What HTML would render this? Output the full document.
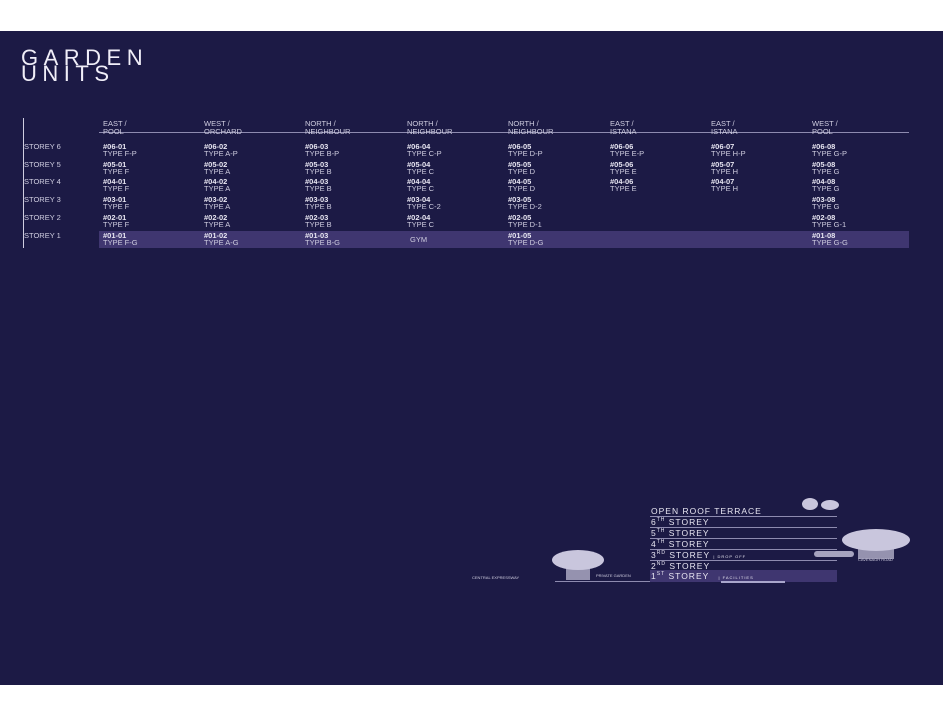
<!DOCTYPE html><html><head><style>
body{margin:0;width:943px;height:717px;background:#fff;position:relative;overflow:hidden;font-family:"Liberation Sans",sans-serif;color:#e8e6f2}
#bg{position:absolute;left:0;top:31px;width:943px;height:654px;background:#1c1a45}
.a{position:absolute;white-space:nowrap}
.h{font-size:7.5px;line-height:8px;color:#cfcde0}
.u{font-size:7.5px;font-weight:bold;line-height:8px}
.y{font-size:7.5px;line-height:8px;color:#cfcde0}
.s{font-size:7.5px;color:#cfcde0}
.fl{font-size:8.5px;letter-spacing:1px;color:#e8e6f2}
.ln{position:absolute;height:1px;background:#8e8bb0}
</style></head><body><div id="bg"></div>
<div class="a" style="left:21px;top:50px;font-size:22px;line-height:16px;letter-spacing:5.5px;color:#f0eef8">GARDEN<br>UNITS</div>
<div style="position:absolute;left:23px;top:118px;width:1px;height:130px;background:#cfcde0"></div>
<div class="ln" style="left:99px;top:132px;width:810px"></div>
<div style="position:absolute;left:99px;top:231px;width:810px;height:17px;background:#3f3670"></div>
<div id="g"></div>
<div class="a" style="left:410px;top:235px;font-size:7.5px;color:#cfcde0">GYM</div>
<div style="position:absolute;left:650px;top:570px;width:187px;height:12px;background:#3f3670"></div>
<div style="position:absolute;left:721px;top:581px;width:64px;height:2px;background:#a9a6cc"></div>
<div class="ln" style="left:650px;top:516px;width:187px"></div>
<div class="ln" style="left:650px;top:527px;width:187px"></div>
<div class="ln" style="left:650px;top:538px;width:187px"></div>
<div class="ln" style="left:650px;top:549px;width:187px"></div>
<div class="ln" style="left:650px;top:560px;width:187px"></div>
<div class="ln" style="left:555px;top:581px;width:95px"></div>
<div class="a fl" style="left:651px;top:506px">OPEN ROOF TERRACE</div>
<div class="a fl" style="left:651px;top:517px">6<sup style="font-size:5px">TH</sup> STOREY</div>
<div class="a fl" style="left:651px;top:528px">5<sup style="font-size:5px">TH</sup> STOREY</div>
<div class="a fl" style="left:651px;top:539px">4<sup style="font-size:5px">TH</sup> STOREY</div>
<div class="a fl" style="left:651px;top:550px">3<sup style="font-size:5px">RD</sup> STOREY <span style="font-size:4px">| DROP OFF</span></div>
<div class="a fl" style="left:651px;top:561px">2<sup style="font-size:5px">ND</sup> STOREY</div>
<div class="a fl" style="left:651px;top:571px">1<sup style="font-size:5px">ST</sup> STOREY <span style="font-size:4px;margin-left:6px">| FACILITIES</span></div>
<div class="a" style="left:472px;top:575px;font-size:4px;color:#cfcde0">CENTRAL EXPRESSWAY</div>
<div class="a" style="left:596px;top:573px;font-size:4px;color:#cfcde0">PRIVATE GARDEN</div>
<div class="a" style="left:858px;top:557px;font-size:4px;color:#cfcde0">CAVENAGH ROAD</div>
<svg class="a" style="left:548px;top:548px" width="60" height="34"><ellipse cx="30" cy="12" rx="26" ry="10" fill="#c9c6dd"/><rect x="18" y="16" width="24" height="16" fill="#c9c6dd" opacity=".7"/></svg>
<svg class="a" style="left:838px;top:528px" width="75" height="32"><ellipse cx="38" cy="12" rx="34" ry="11" fill="#c9c6dd"/><rect x="20" y="16" width="36" height="15" fill="#c9c6dd" opacity=".7"/></svg>
<svg class="a" style="left:800px;top:498px" width="42" height="16"><ellipse cx="10" cy="6" rx="8" ry="6" fill="#c9c6dd"/><ellipse cx="30" cy="7" rx="9" ry="5" fill="#c9c6dd"/></svg>
<svg class="a" style="left:812px;top:547px" width="45" height="12"><rect x="2" y="4" width="40" height="6" rx="3" fill="#c9c6dd" opacity=".8"/></svg>
<script>
var X=[103,204,305,407,508,610,711,812];
var H=[["EAST /","POOL"],["WEST /","ORCHARD"],["NORTH /","NEIGHBOUR"],["NORTH /","NEIGHBOUR"],["NORTH /","NEIGHBOUR"],["EAST /","ISTANA"],["EAST /","ISTANA"],["WEST /","POOL"]];
var R=[[6,["F-P","A-P","B-P","C-P","D-P","E-P","H-P","G-P"]],[5,["F","A","B","C","D","E","H","G"]],[4,["F","A","B","C","D","E","H","G"]],[3,["F","A","B","C-2","D-2",null,null,"G"]],[2,["F","A","B","C","D-1",null,null,"G-1"]],[1,["F-G","A-G","B-G",null,"D-G",null,null,"G-G"]]];
var h="";
X.forEach(function(x,i){h+='<div class="a h" style="left:'+x+'px;top:120px">'+H[i][0]+'<br>'+H[i][1]+'</div>'});
R.forEach(function(r,k){var y=143+k*17.7;
h+='<div class="a s" style="left:24px;top:'+(y-1)+'px">STOREY '+r[0]+'</div>';
r[1].forEach(function(t,i){if(t)h+='<div class="a u" style="left:'+X[i]+'px;top:'+y+'px">#0'+r[0]+'-0'+(i+1)+'</div><div class="a y" style="left:'+X[i]+'px;top:'+(y+7)+'px">TYPE '+t+'</div>'})});
document.getElementById("g").innerHTML=h;
</script></body></html>
